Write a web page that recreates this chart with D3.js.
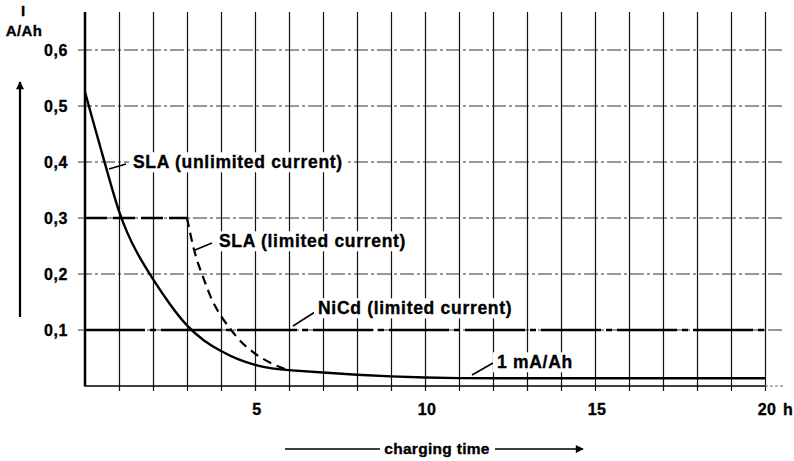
<!DOCTYPE html>
<html>
<head>
<meta charset="utf-8">
<script src="https://cdn.jsdelivr.net/npm/d3@7"></script>
<style>
  html, body { margin: 0; padding: 0; background: #fff; }
  svg text { font-family: "Liberation Sans", Arial, Helvetica, sans-serif; font-weight: bold; fill: #000; stroke: #000; stroke-width: 0.35px; }
</style>
</head>
<body>
<svg id="chart" width="794" height="461"></svg>
<script>
// ---- data ----
const xTicks = [5, 10, 15, 20];
const xTickLabels = ["5", "10", "15", "20"];
const yTicks = [0.1, 0.2, 0.3, 0.4, 0.5, 0.6];
const yTickLabels = ["0,1", "0,2", "0,3", "0,4", "0,5", "0,6"];
const hours = d3.range(0, 21);

const slaUnlimitedT = [0, 0.25, 0.5, 0.75, 1, 1.25, 1.5, 2, 2.5, 3, 3.5, 4, 4.5, 5, 5.5, 6, 7, 8, 9, 10, 11, 12, 15, 20];
const slaUnlimitedI = [0.525, 0.47, 0.416, 0.362, 0.31, 0.272, 0.24, 0.19, 0.145, 0.106, 0.080, 0.062, 0.047, 0.037, 0.031, 0.028, 0.024, 0.020, 0.017, 0.015, 0.014, 0.0138, 0.0138, 0.0138];

const slaLimitedT = [0, 3, 3.2, 3.5, 3.75, 4, 4.25, 4.5, 5, 5.5, 6];
const slaLimitedI = [0.30, 0.30, 0.245, 0.19, 0.152, 0.125, 0.104, 0.085, 0.058, 0.040, 0.028];

const nicdT = [0, 20];
const nicdI = [0.1, 0.1];

const labels = ["SLA (unlimited current)", "SLA (limited current)", "NiCd (limited current)", "1 mA/Ah"];

// ---- layout ----
const svg = d3.select("#chart");
const x = d3.scaleLinear().domain([0, 20]).range([85, 765]);
const y = d3.scaleLinear().domain([0, 0.6]).range([386, 50]);
const yTop = 12;

// horizontal grid lines
svg.append("g").selectAll("line").data(yTicks).join("line")
  .attr("x1", 78).attr("x2", 782)
  .attr("y1", d => y(d)).attr("y2", d => y(d))
  .attr("stroke", "#333").attr("stroke-width", 1)
  .attr("stroke-dasharray", "14,3,3,3");

// vertical grid lines
svg.append("g").selectAll("line").data(hours.slice(1)).join("line")
  .attr("x1", d => Math.round(x(d)) + 0.5).attr("x2", d => Math.round(x(d)) + 0.5)
  .attr("y1", yTop).attr("y2", y(0) + 5)
  .attr("stroke", "#111").attr("stroke-width", 1.2);

// axes
svg.append("line").attr("x1", x(0)).attr("x2", x(0)).attr("y1", yTop).attr("y2", y(0))
  .attr("stroke", "#000").attr("stroke-width", 2.5);
svg.append("line").attr("x1", x(0) - 1).attr("x2", x(20)).attr("y1", y(0)).attr("y2", y(0))
  .attr("stroke", "#000").attr("stroke-width", 1.6);
svg.append("line").attr("x1", x(20)).attr("x2", 783).attr("y1", y(0)).attr("y2", y(0))
  .attr("stroke", "#666").attr("stroke-width", 1).attr("stroke-dasharray", "3,2");

// y tick labels
svg.append("g").selectAll("text").data(yTicks).join("text")
  .attr("x", 68).attr("y", d => y(d)).attr("dy", "0.36em")
  .attr("text-anchor", "end").attr("font-size", 16).attr("letter-spacing", 0.6)
  .text((d, i) => yTickLabels[i]);

// x tick labels
svg.append("g").selectAll("text").data(xTicks).join("text")
  .attr("x", d => x(d) + 2).attr("y", 409).attr("dy", "0.36em")
  .attr("text-anchor", "middle").attr("font-size", 16).attr("letter-spacing", 0.4)
  .text((d, i) => xTickLabels[i]);
svg.append("text").attr("x", 783).attr("y", 409).attr("dy", "0.36em")
  .attr("font-size", 16).text("h");

// y axis title
svg.append("text").attr("x", 23).attr("y", 11).attr("dy", "0.36em")
  .attr("text-anchor", "middle").attr("font-size", 15).text("I");
svg.append("text").attr("x", 24).attr("y", 31).attr("dy", "0.36em")
  .attr("text-anchor", "middle").attr("font-size", 15).attr("letter-spacing", 0.4).text("A/Ah");

// arrows
const defs = svg.append("defs");
defs.append("marker").attr("id", "arr").attr("viewBox", "0 0 10 10")
  .attr("refX", 9).attr("refY", 5).attr("markerWidth", 12).attr("markerHeight", 8)
  .attr("markerUnits", "userSpaceOnUse").attr("orient", "auto")
  .append("path").attr("d", "M0,0 L10,5 L0,10 z").attr("fill", "#000");

svg.append("line").attr("x1", 20).attr("x2", 20).attr("y1", 317).attr("y2", 82)
  .attr("stroke", "#000").attr("stroke-width", 2.2).attr("marker-end", "url(#arr)");

svg.append("line").attr("x1", 285).attr("x2", 380).attr("y1", 449).attr("y2", 449)
  .attr("stroke", "#000").attr("stroke-width", 1.5);
svg.append("text").attr("x", 437).attr("y", 449).attr("dy", "0.32em")
  .attr("text-anchor", "middle").attr("font-size", 15.5).attr("letter-spacing", 0.3).text("charging time");
svg.append("line").attr("x1", 495).attr("x2", 583).attr("y1", 449).attr("y2", 449)
  .attr("stroke", "#000").attr("stroke-width", 1.5).attr("marker-end", "url(#arr)");

// series
const zip = (a, b) => a.map((v, i) => [v, b[i]]);

svg.append("path").datum(zip(nicdT, nicdI))
  .attr("d", d3.line().x(d => x(d[0])).y(d => y(d[1])))
  .attr("fill", "none").attr("stroke", "#000").attr("stroke-width", 2.4)
  .attr("stroke-dasharray", "60,5,6,5");

const dashedPts = zip(slaLimitedT, slaLimitedI);
svg.append("path").datum(dashedPts.slice(0, 2))
  .attr("d", d3.line().x(d => x(d[0])).y(d => y(d[1])))
  .attr("fill", "none").attr("stroke", "#000").attr("stroke-width", 2.4)
  .attr("stroke-dasharray", "22,6");
svg.append("path").datum(dashedPts.slice(1))
  .attr("d", d3.line().x(d => x(d[0])).y(d => y(d[1])).curve(d3.curveMonotoneX))
  .attr("fill", "none").attr("stroke", "#000").attr("stroke-width", 2.2)
  .attr("stroke-dasharray", "9,6");

svg.append("path").datum(zip(slaUnlimitedT, slaUnlimitedI))
  .attr("d", d3.line().x(d => x(d[0])).y(d => y(d[1])).curve(d3.curveBasis))
  .attr("fill", "none").attr("stroke", "#000").attr("stroke-width", 2.4);

// annotations
const ann = [
  { text: labels[0], tx: 133, ty: 162, lx1: 109, ly1: 169, lx2: 126, ly2: 164 },
  { text: labels[1], tx: 219, ty: 241, lx1: 195, ly1: 250, lx2: 212, ly2: 243 },
  { text: labels[2], tx: 318, ty: 308, lx1: 293, ly1: 326, lx2: 315, ly2: 312 },
  { text: labels[3], tx: 497, ty: 362, lx1: 472, ly1: 375, lx2: 493, ly2: 363 }
];
const ag = svg.append("g");
ag.selectAll("line").data(ann).join("line")
  .attr("x1", d => d.lx1).attr("y1", d => d.ly1).attr("x2", d => d.lx2).attr("y2", d => d.ly2)
  .attr("stroke", "#000").attr("stroke-width", 1.6);
ag.selectAll("rect").data(ann).join("rect")
  .attr("fill", "#fff");
ag.selectAll("text").data(ann).join("text")
  .attr("x", d => d.tx).attr("y", d => d.ty).attr("dy", "0.36em")
  .attr("font-size", 17.5).attr("letter-spacing", 0.7).text(d => d.text)
  .each(function(d) { d.bb = this.getBBox(); });
ag.selectAll("rect")
  .attr("x", d => d.bb.x - 4).attr("y", d => d.bb.y)
  .attr("width", d => d.bb.width + 8).attr("height", d => d.bb.height);
</script>
</body>
</html>
